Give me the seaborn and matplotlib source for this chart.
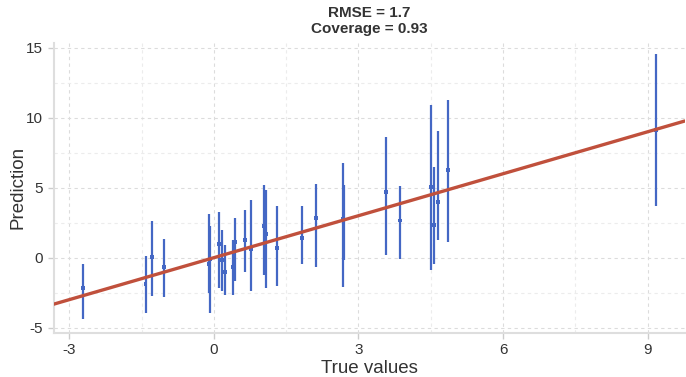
import matplotlib
matplotlib.use("Agg")
import matplotlib.pyplot as plt
import seaborn as sns
import numpy as np
import pandas as pd
from matplotlib.ticker import MultipleLocator

# Data
true_vals = [-2.72, -1.42, -1.28, -1.03, -0.10, -0.08, 0.10, 0.17, 0.22, 0.39,
             0.44, 0.64, 0.77, 1.03, 1.09, 1.30, 1.83, 2.12, 2.67, 2.69,
             3.57, 3.87, 4.50, 4.57, 4.66, 4.85, 9.17]
pred_vals = [-2.20, -1.88, 0.07, -0.69, -0.45, -0.10, 0.98, -0.19, -1.00, -0.67,
             1.12, 1.29, 0.62, 2.24, 1.69, 0.69, 1.38, 2.86, 2.80, 2.60,
             4.69, 2.66, 5.04, 2.36, 3.98, 6.24, 9.14]
lower_vals = [-4.36, -3.95, -2.71, -2.83, -2.50, -3.95, -2.17, -2.40, -2.64, -2.64,
              -1.69, -1.05, -2.36, -1.26, -2.17, -2.05, -0.45, -0.69, -2.12, -0.19,
              0.21, -0.10, -0.86, -0.43, 1.29, 1.12, 3.71]
upper_vals = [-0.43, 0.14, 2.62, 1.34, 3.10, 2.30, 3.26, 1.95, 0.93, 1.24,
              2.84, 3.38, 4.14, 5.21, 4.86, 3.71, 3.71, 5.29, 6.76, 5.21,
              8.66, 5.09, 10.93, 6.48, 9.07, 11.29, 14.55]
x_ticks = [-3, 0, 3, 6, 9]
y_ticks = [-5, 0, 5, 10, 15]
title_text = "RMSE = 1.7\nCoverage = 0.93"

df = pd.DataFrame({"true": true_vals, "pred": pred_vals,
                   "lo": lower_vals, "hi": upper_vals})

sns.set_theme(style="white")
plt.rcParams['font.family'] = ['Liberation Sans', 'DejaVu Sans']
plt.rcParams['axes.unicode_minus'] = False

fig = plt.figure(figsize=(6.86, 3.77), dpi=100)
ax = fig.add_axes([0.078, 0.117, 0.92, 0.77])

blue = "#4467c4"
red = "#c0503c"

ax.vlines(df["true"], df["lo"], df["hi"], color=blue, lw=1.6, zorder=3)
sns.scatterplot(data=df, x="true", y="pred", ax=ax, color=blue, s=8,
                marker="s", edgecolor="none", zorder=4)
ax.axline((0, 0), slope=1, color=red, lw=2.4, zorder=5)

ax.set_xlim(-3.33, 9.77)
ax.set_ylim(-5.38, 15.38)
ax.set_xticks(x_ticks)
ax.set_yticks(y_ticks)
ax.xaxis.set_minor_locator(MultipleLocator(1.5))
ax.yaxis.set_minor_locator(MultipleLocator(2.5))
ax.grid(True, which="major", color="#dcdcdc", ls=(0, (3, 3)), lw=0.8)
ax.grid(True, which="minor", color="#ececec", ls=(0, (3, 3)), lw=0.8)
ax.set_axisbelow(True)

for s in ["top", "right"]:
    ax.spines[s].set_visible(False)
for s in ["left", "bottom"]:
    ax.spines[s].set_color("#dedede")
    ax.spines[s].set_linewidth(1.5)

ax.tick_params(axis="both", which="major", labelsize=11, colors="#cccccc",
               labelcolor="#333333", length=4, width=1, left=True, bottom=True)
ax.tick_params(axis="both", which="minor", length=0)

ax.set_xlabel("True values", fontsize=13.5, color="#333333", labelpad=2)
ax.set_ylabel("Prediction", fontsize=13.5, color="#333333", labelpad=0)
ax.set_title(title_text, fontsize=11, fontweight="bold", color="#333333",
             pad=7, linespacing=1.2)

fig.savefig("out.png", dpi=100)
